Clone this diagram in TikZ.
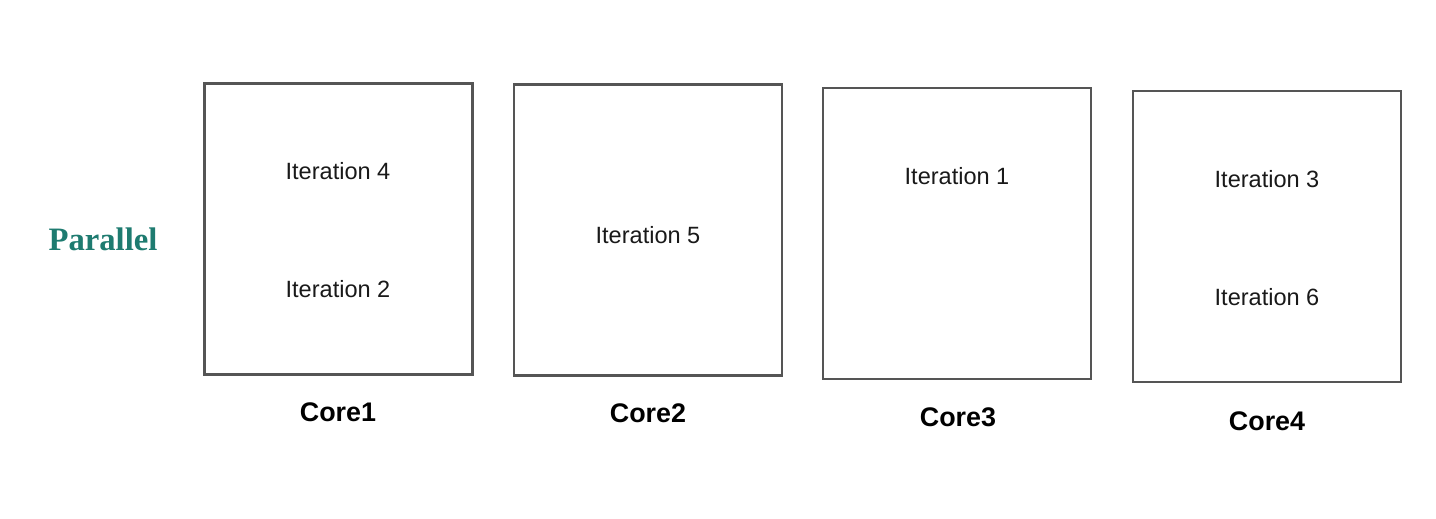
\documentclass[tikz,border=0pt]{standalone}
\usepackage{fontspec}
\setmainfont{Liberation Sans}
\newfontfamily\serifbold{Liberation Serif}
\definecolor{tealtxt}{HTML}{1E7B70}
\definecolor{boxgray}{HTML}{555555}
\begin{document}
\begin{tikzpicture}[x=0.02cm,y=-0.02cm,
  corebox/.style={draw=boxgray,line width=1.4pt,minimum width=268*0.02cm,minimum height=291*0.02cm,inner sep=0pt},
  itlabel/.style={font=\fontsize{13.4}{16}\selectfont,text=black!90},
  corelabel/.style={font=\fontsize{15.3}{18}\selectfont\bfseries}]
\useasboundingbox (0,0) rectangle (1436,518);
\node[corebox] (b1) at (338.5,229) {};
\node[corebox] (b2) at (648,230) {};
\node[corebox] (b3) at (957,233.5) {};
\node[corebox] (b4) at (1267,236.5) {};
\node[itlabel] (i4) at (338,171) {Iteration 4};
\node[itlabel] (i2) at (338,289) {Iteration 2};
\node[itlabel] (i5) at (648,235) {Iteration 5};
\node[itlabel] (i1) at (957,176) {Iteration 1};
\node[itlabel] (i3) at (1267,179) {Iteration 3};
\node[itlabel] (i6) at (1267,297) {Iteration 6};
\node[corelabel] (c1) at (338,412) {Core1};
\node[corelabel] (c2) at (648,413) {Core2};
\node[corelabel] (c3) at (958,417) {Core3};
\node[corelabel] (c4) at (1267,421) {Core4};
\node[font=\serifbold\fontsize{18.6}{22}\selectfont\bfseries,text=tealtxt] (par) at (103,239) {Parallel};
\end{tikzpicture}
\end{document}
